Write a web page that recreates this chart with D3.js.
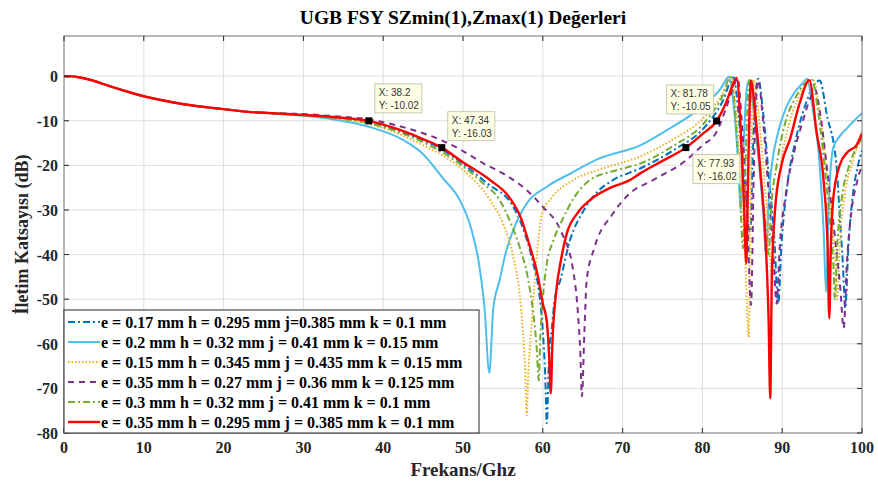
<!DOCTYPE html>
<html>
<head>
<meta charset="utf-8">
<script src="https://cdn.jsdelivr.net/npm/d3@7"></script>
<style>
  body { margin: 0; background: #fff; }
  #chart { width: 878px; height: 484px; }
</style>
</head>
<body>
<div id="chart"></div>
<script>
// shared low-frequency part, all six curves sit on top of each other here
const lowBand = [[0,0],[1,-0.05],[2,-0.3],[3,-0.7],[4,-1.2],[5,-1.8],[6,-2.4],[8,-3.5],[10,-4.5],[12,-5.3],[15,-6.3],[18,-7.0],[20,-7.4],[23,-8.0],[26,-8.3]];

const s1Blue = lowBand.concat([[30,-8.7],[34,-9.3],[38.2,-10.3],[42,-12.3],[45,-14.4],[47.34,-16.4],[50,-19.7],[53,-24],[56.3,-29.3],[57.5,-34],[58.8,-42],[59.5,-48],[60,-57],[60.3,-67],[60.5,-77.8],[60.8,-62],[61.1,-57],[61.5,-50],[62.2,-45.7],[63.4,-36.8],[65,-30.5],[66.8,-26],[68.8,-23.3],[72.2,-20.7],[76.2,-16.8],[80.5,-11],[82.5,-5.8],[83.9,-0.3],[84.6,-10],[85.3,-25],[86.0,-35],[86.3,-18],[86.6,-5],[87.0,-0.6],[87.6,-8],[88.3,-22],[89,-36],[89.5,-51],[89.9,-38],[90.6,-25],[91.6,-15],[92.8,-7],[93.8,-2.5],[94.7,-1],[95.6,-8.7],[96.8,-20],[97.2,-31],[97.6,-42],[97.9,-52],[98.3,-38],[98.9,-26],[99.5,-20],[100,-16.6]]);

const s2LightBlue = lowBand.concat([[30,-8.9],[34,-9.8],[38.3,-11.4],[42.5,-14.3],[45,-17.5],[47.5,-22.9],[49.6,-27.8],[51,-34],[52,-42],[52.7,-52],[53.3,-66.5],[53.8,-52],[54.6,-45.7],[55.3,-40],[56.3,-34.5],[58,-28.5],[60.5,-24.8],[63.8,-21.5],[67,-18.5],[72.2,-15.5],[76.2,-11.4],[78.5,-8.8],[80.5,-6],[82.3,-2.8],[83.3,-0.2],[84,-8],[84.5,-20],[84.8,-30],[85.1,-18],[85.5,-4],[85.8,-1],[86.3,-6],[87,-18],[87.6,-30],[88.0,-40.8],[88.3,-28],[88.7,-20],[89.5,-12.5],[90.5,-7],[91.6,-3.5],[92.6,-1.5],[93.1,-0.6],[93.8,-7],[94.7,-20],[95.2,-35],[95.5,-48.4],[95.8,-30],[96.4,-16],[97.2,-13.5],[98.1,-11.7],[99,-10],[100,-8.3]]);

const s3Yellow = lowBand.concat([[30,-8.8],[34,-9.5],[38.2,-10.7],[42,-13],[45,-15.5],[47.34,-17.7],[50,-21],[53.4,-27.8],[55,-33],[56.3,-40.5],[57.1,-49],[57.5,-57],[57.8,-66],[58.0,-76],[58.2,-66],[58.4,-60.7],[59,-45.7],[59.9,-30.8],[61,-27.5],[63.8,-23.3],[67,-21],[72.2,-18],[76.2,-14.3],[80.5,-8.7],[82.5,-4],[83.6,-0.2],[84.3,-10],[84.9,-25],[85.4,-42],[85.8,-58.5],[86.0,-32],[86.2,-10],[86.4,-0.8],[87,-8],[87.7,-22],[88.3,-35],[88.7,-45],[89.1,-30],[89.8,-20],[90.8,-11],[92,-5],[93.2,-1.5],[93.9,-0.9],[94.7,-8],[95.5,-20],[96.2,-33],[96.7,-43],[96.9,-50],[97.2,-38],[97.8,-27],[98.7,-20],[99.4,-16],[100,-13.8]]);

const s4Purple = lowBand.concat([[30,-8.5],[34,-9.0],[38.2,-9.7],[42,-11.2],[45,-12.8],[47.34,-14.4],[50,-16.8],[52.5,-19.5],[55,-21.8],[58,-25.6],[60,-29.3],[62.2,-34.5],[63.8,-43.5],[64.4,-53],[64.7,-62],[64.9,-71.8],[65.2,-58],[65.5,-45.7],[66.5,-38.3],[68.8,-30.8],[70.9,-26.3],[73.8,-23.3],[78,-18.8],[80,-15.5],[81.78,-12.5],[83,-7],[83.8,-3],[84.4,-0.5],[85,-12],[85.6,-30],[86.1,-51.3],[86.4,-25],[86.7,-6],[87.0,-1],[87.6,-10],[88.3,-26],[88.9,-40],[89.3,-51],[89.7,-38],[90.5,-26],[91.5,-17],[92.6,-10],[93.5,-5],[94.1,-3],[94.8,-9],[95.7,-22],[96.6,-36],[97.3,-48],[97.7,-56.5],[98.1,-42],[98.7,-30],[99.4,-23.5],[100,-20]]);

const s5Green = lowBand.concat([[30,-8.7],[34,-9.4],[38.2,-10.5],[42,-12.6],[45,-14.8],[47.34,-17],[50,-20.2],[52.5,-24],[54.6,-27.8],[56,-33],[57.1,-38.3],[58.1,-45],[58.8,-53],[59.2,-60],[59.5,-68.2],[59.7,-58],[60,-50],[60.5,-42],[61.3,-37],[62.5,-32],[64,-27],[65.9,-23.3],[69,-21.2],[72.2,-19.6],[76.2,-15.8],[80.5,-9.9],[82.5,-4.5],[83.5,-0.2],[84.1,-8],[84.6,-22],[85.1,-38.6],[85.4,-20],[85.7,-5],[86.0,-0.5],[86.6,-8],[87.3,-22],[87.9,-33],[88.3,-40],[88.6,-30],[89.3,-20],[90.3,-11],[91.6,-5],[92.8,-1.8],[93.7,-0.8],[94.5,-8],[95.3,-20],[96,-33],[96.4,-42],[96.6,-50],[96.9,-38],[97.5,-27],[98.4,-20],[99.3,-16],[100,-14]]);

const s6Red = lowBand.concat([[30,-8.7],[34,-9.2],[38.2,-10.02],[42,-12.0],[45,-14.1],[47.34,-16.03],[50,-19.3],[53.4,-23.3],[55.9,-27.4],[57.3,-32],[58.4,-38.3],[59.4,-45],[60,-51],[60.5,-55],[60.8,-63],[61.0,-71.1],[61.2,-60],[61.7,-48],[62.3,-41],[63,-35.3],[64.3,-30.8],[65.9,-27.8],[68.5,-25],[70.9,-23.3],[72.2,-21.8],[75,-19],[77.93,-16.02],[80,-13],[81.78,-10.05],[83,-5.8],[83.8,-2],[84.3,-0.4],[84.8,-12],[85.2,-28],[85.5,-42],[85.7,-25],[85.9,-8],[86.1,-1],[86.6,-8],[87.3,-22],[88,-40],[88.3,-55],[88.5,-72.2],[88.7,-45],[89.1,-30],[89.9,-20],[91,-14],[92.2,-6],[93.4,-0.9],[94.3,-12.5],[95.2,-23.7],[95.7,-38.6],[95.9,-54.3],[96.1,-38],[96.4,-27.4],[97.2,-20],[98.2,-17],[99.3,-15.5],[100,-12.8]]);

const seriesData = [s1Blue, s2LightBlue, s3Yellow, s4Purple, s5Green, s6Red];
const legendLabels = [
  "e = 0.17 mm h = 0.295 mm j=0.385 mm k = 0.1 mm",
  "e = 0.2 mm h = 0.32 mm j = 0.41 mm k = 0.15 mm",
  "e = 0.15 mm h = 0.345 mm j = 0.435 mm k = 0.15 mm",
  "e = 0.35 mm h = 0.27 mm j = 0.36 mm k = 0.125 mm",
  "e = 0.3 mm h = 0.32 mm j = 0.41 mm k = 0.1 mm",
  "e = 0.35 mm h = 0.295 mm j = 0.385 mm k = 0.1 mm"
];
const xTicks = [0, 10, 20, 30, 40, 50, 60, 70, 80, 90, 100];
const yTicks = [0, -10, -20, -30, -40, -50, -60, -70, -80];

// data tips shown on the red curve
const tipX = [38.2, 47.34, 81.78, 77.93];
const tipY = [-10.02, -16.03, -10.05, -16.02];

const colors = ["#0072BD", "#4DBEEE", "#EDB120", "#7E2F8E", "#77AC30", "#FF0000"];
const dashes = ["7,3,2,3", null, "1.5,2", "6,5", "7,3,2,3", null];
const widths = [2, 2, 2, 2, 2, 2.4];

const W = 878, H = 484;
const margin = { left: 64, right: 16, top: 36, bottom: 51 };
const serif = "'Liberation Serif', 'Times New Roman', serif";

const svg = d3.select("#chart").append("svg")
  .attr("width", W).attr("height", H);

const x = d3.scaleLinear().domain([0, 100]).range([margin.left, W - margin.right]);
const y = d3.scaleLinear().domain([-80, 9]).range([H - margin.bottom, margin.top]);

svg.append("rect")
  .attr("x", margin.left).attr("y", margin.top)
  .attr("width", x(100) - x(0)).attr("height", y(-80) - y(9))
  .attr("fill", "#fff");

// grid
svg.append("g").selectAll("line").data(xTicks.slice(1, -1)).join("line")
  .attr("x1", d => x(d)).attr("x2", d => x(d))
  .attr("y1", y(9)).attr("y2", y(-80))
  .attr("stroke", "#dedede").attr("stroke-width", 1);
svg.append("g").selectAll("line").data(yTicks.slice(0, -1)).join("line")
  .attr("x1", x(0)).attr("x2", x(100))
  .attr("y1", d => y(d)).attr("y2", d => y(d))
  .attr("stroke", "#dedede").attr("stroke-width", 1);

svg.append("clipPath").attr("id", "plotClip").append("rect")
  .attr("x", x(0)).attr("y", y(9))
  .attr("width", x(100) - x(0)).attr("height", y(-80) - y(9));

const line = d3.line()
  .x(d => x(d[0])).y(d => y(d[1]))
  .curve(d3.curveMonotoneX);

svg.append("g").attr("clip-path", "url(#plotClip)")
  .selectAll("path").data(seriesData).join("path")
  .attr("d", line)
  .attr("fill", "none")
  .attr("stroke", (d, i) => colors[i])
  .attr("stroke-width", (d, i) => widths[i])
  .attr("stroke-dasharray", (d, i) => dashes[i])
  .attr("stroke-linejoin", "round");

// axes box with inward ticks on all four sides
const axisColor = "#262626";
const tickLen = 5;
const axG = svg.append("g").attr("stroke", axisColor).attr("stroke-width", 1);
axG.append("rect")
  .attr("x", x(0)).attr("y", y(9))
  .attr("width", x(100) - x(0)).attr("height", y(-80) - y(9))
  .attr("fill", "none").attr("stroke", "#6e6e6e");
axG.selectAll(".xt").data(xTicks).join("line")
  .attr("x1", d => x(d)).attr("x2", d => x(d))
  .attr("y1", y(-80)).attr("y2", y(-80) - tickLen);
axG.selectAll(".xtt").data(xTicks).join("line")
  .attr("x1", d => x(d)).attr("x2", d => x(d))
  .attr("y1", y(9)).attr("y2", y(9) + tickLen);
axG.selectAll(".yt").data(yTicks).join("line")
  .attr("x1", x(0)).attr("x2", x(0) + tickLen)
  .attr("y1", d => y(d)).attr("y2", d => y(d));
axG.selectAll(".ytr").data(yTicks).join("line")
  .attr("x1", x(100)).attr("x2", x(100) - tickLen)
  .attr("y1", d => y(d)).attr("y2", d => y(d));

svg.append("g").selectAll("text").data(xTicks).join("text")
  .attr("x", d => x(d)).attr("y", y(-80) + 20)
  .attr("text-anchor", "middle")
  .attr("font-family", serif).attr("font-weight", "bold").attr("font-size", 16)
  .attr("fill", axisColor)
  .text(d => d);
svg.append("g").selectAll("text").data(yTicks).join("text")
  .attr("x", x(0) - 6).attr("y", d => y(d) + 6)
  .attr("text-anchor", "end")
  .attr("font-family", serif).attr("font-weight", "bold").attr("font-size", 16)
  .attr("fill", axisColor)
  .text(d => d);

svg.append("text")
  .attr("x", (x(0) + x(100)) / 2).attr("y", 24)
  .attr("text-anchor", "middle")
  .attr("font-family", serif).attr("font-weight", "bold").attr("font-size", 19.5)
  .attr("fill", "#000")
  .text("UGB FSY SZmin(1),Zmax(1) Değerleri");
svg.append("text")
  .attr("x", (x(0) + x(100)) / 2).attr("y", 476)
  .attr("text-anchor", "middle")
  .attr("font-family", serif).attr("font-weight", "bold").attr("font-size", 19)
  .attr("fill", axisColor)
  .text("Frekans/Ghz");
svg.append("text")
  .attr("transform", `translate(28, ${(y(9) + y(-80)) / 2}) rotate(-90)`)
  .attr("text-anchor", "middle")
  .attr("font-family", serif).attr("font-weight", "bold").attr("font-size", 18)
  .attr("fill", axisColor)
  .text("İletim Katsayısı (dB)");

// data tips
const tipPlace = [[6, -37], [6, -36], [-50, -36], [7, 7]];
const tips = svg.append("g");
tipX.forEach((tx, i) => {
  const px = x(tx), py = y(tipY[i]);
  const bx = px + tipPlace[i][0], by = py + tipPlace[i][1];
  tips.append("rect")
    .attr("x", bx).attr("y", by).attr("width", 47).attr("height", 29)
    .attr("fill", "#ffffe6").attr("stroke", "#c8c8b4").attr("stroke-width", 1);
  tips.append("text")
    .attr("x", bx + 4).attr("y", by + 12)
    .attr("font-family", "'Liberation Sans', Arial, sans-serif").attr("font-size", 10)
    .attr("fill", "#333")
    .text(`X: ${tx}`);
  tips.append("text")
    .attr("x", bx + 4).attr("y", by + 25)
    .attr("font-family", "'Liberation Sans', Arial, sans-serif").attr("font-size", 10)
    .attr("fill", "#333")
    .text(`Y: ${tipY[i]}`);
  tips.append("rect")
    .attr("x", px - 3.5).attr("y", py - 3.5).attr("width", 7).attr("height", 7)
    .attr("fill", "#000");
});

// legend
const lg = svg.append("g");
const lgX = x(0), lgY = 310, rowH = 20;
lg.append("rect")
  .attr("x", lgX).attr("y", lgY).attr("width", 415).attr("height", y(-80) - lgY)
  .attr("fill", "#fff").attr("stroke", axisColor).attr("stroke-width", 1);
legendLabels.forEach((lab, i) => {
  const cy = lgY + 12 + i * rowH;
  lg.append("line")
    .attr("x1", lgX + 4).attr("x2", lgX + 36)
    .attr("y1", cy).attr("y2", cy)
    .attr("stroke", colors[i]).attr("stroke-width", widths[i])
    .attr("stroke-dasharray", dashes[i]);
  lg.append("text")
    .attr("x", lgX + 37).attr("y", cy + 5.5)
    .attr("font-family", serif).attr("font-weight", "bold").attr("font-size", 16)
    .attr("fill", "#000")
    .text(lab);
});
</script>
</body>
</html>
